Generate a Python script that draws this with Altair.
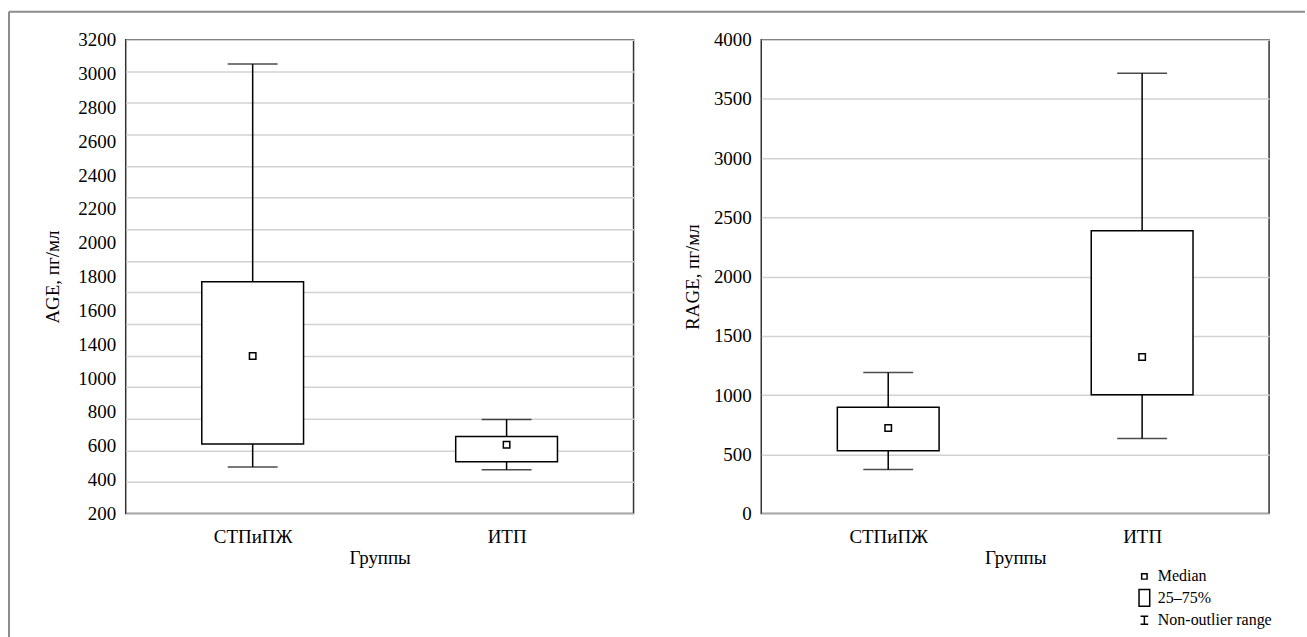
import altair as alt
import pandas as pd

FONT = "Liberation Serif"

groups = ["СТПиПЖ", "ИТП"]

# AGE panel (values on the evenly spaced grid 200..3200)
age_low = [495, 478]
age_q1 = [640, 528]
age_med = [1198, 636]
age_q3 = [1667, 688]
age_high = [3046, 796]

# RAGE panel
rage_low = [371, 634]
rage_q1 = [531, 1002]
rage_med = [722, 1322]
rage_q3 = [897, 2386]
rage_high = [1190, 3716]

age_grid = list(range(200, 3201, 200))
age_tick_labels = ["200", "400", "600", "800", "1000", "1400", "1600", "1800",
                   "2000", "2200", "2400", "2600", "2800", "3000", "3200"]
rage_ticks = list(range(0, 4001, 500))

legend_items = ["Median", "25–75%", "Non-outlier range"]
legend_shapes = [
    "M-0.32,-0.32H0.32V0.32H-0.32Z",
    "M-0.63,-0.98H0.63V0.98H-0.63Z",
    "M-0.45,-0.47H0.45M0,-0.47V0.47M-0.45,0.47H0.45",
]

W, H = 509, 475
BOX_W, CAP_W, LW = 102, 50, 1.5
FS = 19

TXT = dict(labelFont=FONT, titleFont=FONT, labelFontSize=FS, titleFontSize=FS,
           titleFontWeight="normal", labelColor="black", titleColor="black")


def make_df(low, q1, med, q3, high):
    return pd.DataFrame({"group": groups, "low": low, "q1": q1, "med": med,
                         "q3": q3, "high": high})


X = alt.X("group:N", sort=groups,
          scale=alt.Scale(type="point", padding=0.5),
          axis=alt.Axis(title="Группы", labelAngle=0, ticks=False, tickSize=0,
                        domain=False, grid=False, labelPadding=14, titlePadding=2, **TXT))


def box_layers(df, yscale, yaxis):
    def Y(field):
        return alt.Y(f"{field}:Q", scale=yscale, axis=yaxis)
    base = alt.Chart(df)
    whisk = base.mark_rule(color="black", strokeWidth=LW).encode(x=X, y=Y("low"), y2="high")
    box = base.mark_bar(size=BOX_W, fill="white", stroke="black", strokeWidth=LW).encode(
        x=X, y=Y("q1"), y2="q3")
    cap_lo = base.mark_tick(size=CAP_W, thickness=LW, color="black").encode(x=X, y=Y("low"))
    cap_hi = base.mark_tick(size=CAP_W, thickness=LW, color="black").encode(x=X, y=Y("high"))
    med = base.mark_point(shape="square", size=42, filled=True, fill="white",
                          stroke="black", strokeWidth=LW, opacity=1).encode(x=X, y=Y("med"))
    return [whisk, box, cap_lo, cap_hi, med]


one = pd.DataFrame({"k": [0]})
frame_top = alt.Chart(one).mark_rule(color="#8c8c8c", strokeWidth=2).encode(
    x=alt.value(-117), x2=alt.value(1182), y=alt.value(-28))
frame_left = alt.Chart(one).mark_rule(color="#8c8c8c", strokeWidth=2).encode(
    x=alt.value(-117), y=alt.value(-28), y2=alt.value(599))

# ---- left panel ----
age_df = make_df(age_low, age_q1, age_med, age_q3, age_high)
age_scale = alt.Scale(domain=[200, 3200], nice=False, zero=False)
age_axis = alt.Axis(orient="right", values=age_grid, labels=False, ticks=False,
                    tickSize=0, domain=False, grid=True, title=None,
                    gridColor="#d2d2d2", gridWidth=1.5)
left_data = alt.layer(frame_top, frame_left, *box_layers(age_df, age_scale, age_axis))

label_df = pd.DataFrame({"idx": list(range(len(age_tick_labels)))})
label_expr = "[" + ",".join(f"'{t}'" for t in age_tick_labels) + "][datum.value]"
left_labels = alt.Chart(label_df).mark_point(opacity=0).encode(
    y=alt.Y("idx:Q",
            scale=alt.Scale(domain=[0, len(age_tick_labels) - 1], nice=False, zero=False),
            axis=alt.Axis(orient="left", values=list(range(len(age_tick_labels))),
                          labelExpr=label_expr, grid=False, ticks=False, tickSize=0,
                          domain=False, labelPadding=10, title="AGE, пг/мл",
                          titlePadding=15, **TXT)))

left = alt.layer(left_data, left_labels).resolve_scale(y="independent").properties(
    width=W, height=H)

# ---- right panel ----
rage_df = make_df(rage_low, rage_q1, rage_med, rage_q3, rage_high)
rage_scale = alt.Scale(domain=[0, 4000], nice=False)
rage_axis = alt.Axis(orient="left", values=rage_ticks, format="d", grid=True, ticks=False,
                     tickSize=0, domain=False, labelPadding=10, title="RAGE, пг/мл",
                     titlePadding=11, gridColor="#d2d2d2", gridWidth=1.5, **TXT)

legend_df = pd.DataFrame({"item": legend_items})
legend_layer = alt.Chart(legend_df).mark_point(filled=False, color="black", opacity=0).encode(
    shape=alt.Shape("item:N", sort=legend_items,
                    scale=alt.Scale(domain=legend_items, range=legend_shapes),
                    legend=alt.Legend(title=None, orient="none", legendX=1011.5, legendY=528.5,
                                      symbolSize=289, symbolStrokeWidth=1.5,
                                      symbolStrokeColor="black", symbolFillColor="white",
                                      symbolOpacity=1, labelFont=FONT, labelFontSize=16,
                                      labelColor="black", labelOffset=4, rowPadding=1.5,
                                      padding=0)))

right = alt.layer(*box_layers(rage_df, rage_scale, rage_axis), legend_layer).properties(
    width=W, height=H)

chart = alt.hconcat(left, right, spacing=128, bounds="flush").properties(
    padding={"left": 7, "top": 9, "right": 0, "bottom": 0},
    background="white",
).configure_view(stroke="#333333", strokeWidth=1.5).configure_axis(
    gridColor="#d2d2d2", gridWidth=1.5, **TXT
)

chart.save("out.html", embed_options={"renderer": "svg", "actions": False})
